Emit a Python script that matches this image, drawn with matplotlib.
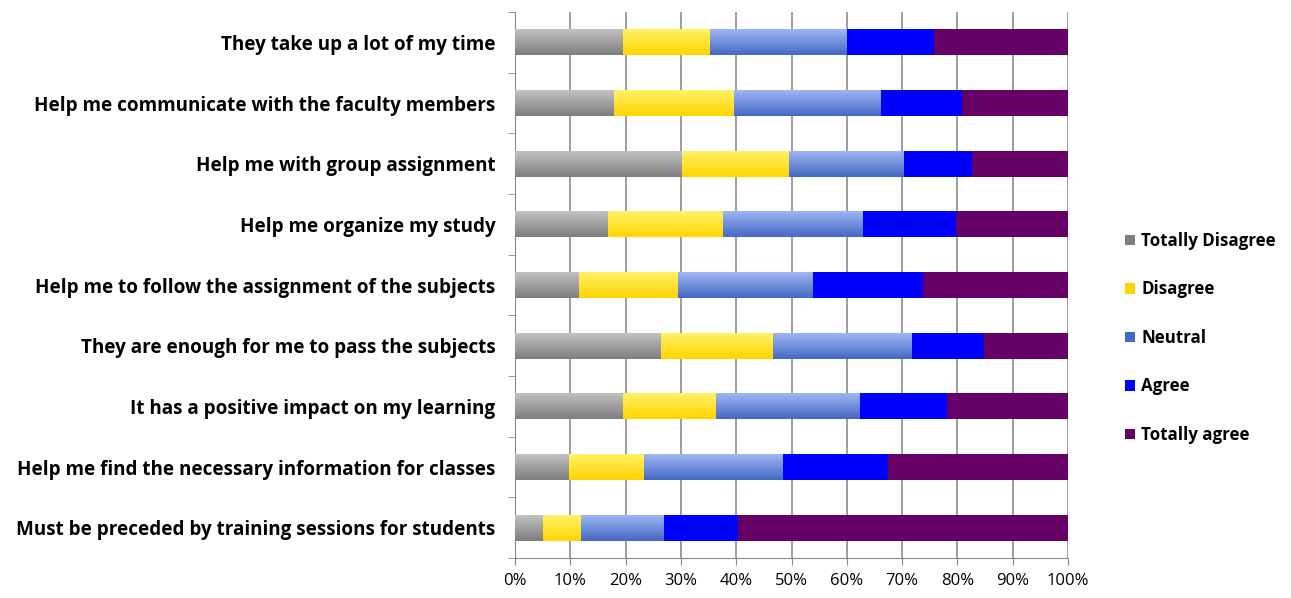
import numpy as np
import matplotlib.pyplot as plt
from matplotlib.colors import LinearSegmentedColormap
from matplotlib.patches import Patch

statements = [
    "They take up a lot of my time",
    "Help me communicate with the faculty members",
    "Help me with group assignment",
    "Help me organize my study",
    "Help me to follow the assignment of the subjects",
    "They are enough for me to pass the subjects",
    "It has a positive impact on my learning",
    "Help me find the necessary information for classes",
    "Must be preceded by training sessions for students",
]
responses = ["Totally Disagree", "Disagree", "Neutral", "Agree", "Totally agree"]

totally_disagree = [19.6, 17.9, 30.2, 16.8, 11.6, 26.4, 19.6, 9.8, 5.0]
disagree = [15.7, 21.7, 19.4, 20.9, 17.9, 20.2, 16.8, 13.5, 6.9]
neutral = [24.6, 26.5, 20.7, 25.2, 24.3, 25.1, 26.0, 25.1, 15.0]
agree = [15.8, 14.7, 12.4, 16.8, 19.9, 13.2, 15.7, 19.0, 13.4]
totally_agree = [24.3, 19.2, 17.3, 20.3, 26.3, 15.1, 21.9, 32.6, 59.7]

# (top colour, bottom colour) -- equal pair means flat fill
shades = [
    ("#c4c4c4", "#7e7e7e"),
    ("#fff26a", "#ffd400"),
    ("#a2b8f4", "#4469c4"),
    ("#0000ff", "#0000ff"),
    ("#660066", "#660066"),
]

plt.rcParams['font.family'] = ['Open Sans', 'DejaVu Sans']

fig = plt.figure(figsize=(12.91, 5.98), dpi=100)
ax = fig.add_axes([515 / 1291, 40 / 598, 553 / 1291, 546 / 598])

series = [totally_disagree, disagree, neutral, agree, totally_agree]
y = np.arange(len(statements))
h = 0.43
left = np.zeros(len(statements))
grad = np.linspace(0, 1, 64).reshape(-1, 1)
for vals, (c_top, c_bot), name in zip(series, shades, responses):
    vals = np.array(vals)
    bars = ax.barh(y, vals, height=h, left=left, color=c_bot, edgecolor='none',
                   zorder=3, label=name)
    if c_top != c_bot:
        cmap = LinearSegmentedColormap.from_list(name, [c_top, c_bot])
        for b in bars:
            x0, y0 = b.get_x(), b.get_y()
            im = ax.imshow(grad, cmap=cmap, aspect='auto', zorder=4,
                           extent=[x0, x0 + b.get_width(), y0 + b.get_height(), y0],
                           origin='upper')
            im.set_clip_path(b)
    left += vals

ax.set_xlim(0, 100)
ax.set_ylim(len(statements) - 0.5, -0.5)
ax.set_xticks(np.arange(0, 101, 10))
ax.set_xticklabels([f"{v}%" for v in range(0, 101, 10)], fontsize=12)
ax.set_yticks(y)
ax.set_yticklabels(statements, fontsize=13.6, fontweight='bold')
ax.tick_params(axis='y', length=0, pad=14)
ax.set_yticks(np.arange(-0.5, len(statements), 1), minor=True)
ax.tick_params(axis='y', which='minor', length=5, color='#888888')
ax.tick_params(axis='x', length=5, color='#888888', pad=6)
ax.grid(axis='x', color='#8c8c8c', linewidth=1.2, zorder=0)
for s in ['top', 'right']:
    ax.spines[s].set_visible(False)
for s in ['left', 'bottom']:
    ax.spines[s].set_color('#888888')

handles = [Patch(facecolor=c[1], edgecolor='none') for c in shades]
fig.legend(handles, responses, loc='center left', bbox_to_anchor=(1110 / 1291, 0.435),
           frameon=False, prop={'weight': 'bold', 'size': 12.2},
           handlelength=0.6, handleheight=0.6, handletextpad=0.35, labelspacing=1.8)

fig.savefig("out.png", dpi=100)
